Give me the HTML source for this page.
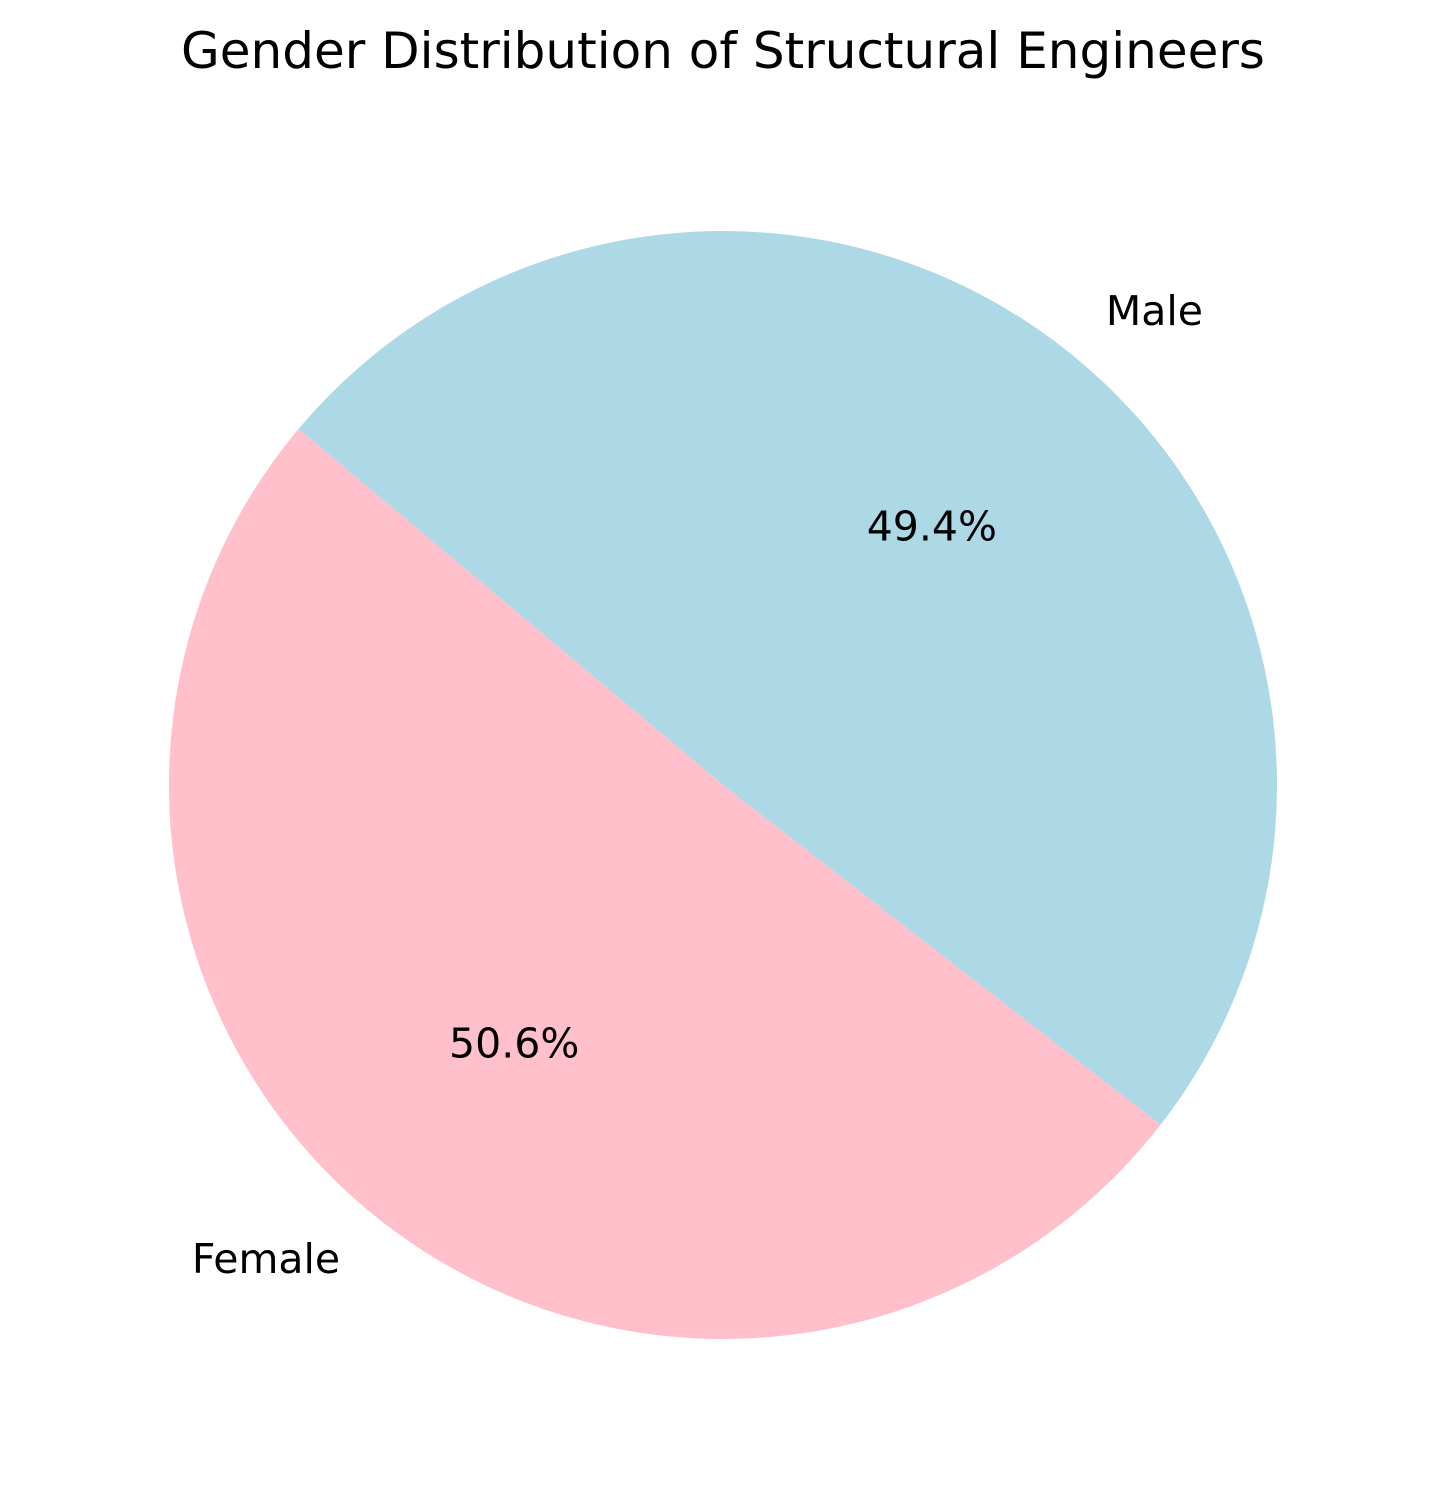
<!DOCTYPE html>
<html><head><meta charset="utf-8"><style>
html,body{margin:0;padding:0;background:#fff;}
svg{display:block;font-family:"DejaVu Sans","Liberation Sans",sans-serif;}
</style></head><body>
<svg id="chart" width="1446" height="1509">
<text x="723" y="68" text-anchor="middle" font-size="50" fill="#000">Gender Distribution of Structural Engineers</text>
<g id="slices"></g>
</svg>
<script>
const categories = ["Female", "Male"];
const values = [50.6, 49.4];
const colors = ["#ffc0cb", "#add8e6"];
const cx = 723, cy = 785, R = 554, startAngle = 140;
const ns = "http://www.w3.org/2000/svg";
const g = document.getElementById("slices");
const total = values.reduce((a, b) => a + b, 0);
function pt(deg, r) { const a = deg * Math.PI / 180; return [cx + r * Math.cos(a), cy - r * Math.sin(a)]; }
let ang = startAngle;
values.forEach((v, i) => {
  const sweep = v / total * 360;
  const a0 = ang, a1 = ang + sweep;
  const p0 = pt(a0, R), p1 = pt(a1, R);
  const large = sweep > 180 ? 1 : 0;
  const path = document.createElementNS(ns, "path");
  path.setAttribute("d", `M${cx},${cy} L${p0[0]},${p0[1]} A${R},${R} 0 ${large} 0 ${p1[0]},${p1[1]} Z`);
  path.setAttribute("fill", colors[i]);
  
  
  g.appendChild(path);
  const mid = (a0 + a1) / 2;
  const lp = pt(mid, R * 1.1);
  const lab = document.createElementNS(ns, "text");
  lab.setAttribute("x", lp[0]); lab.setAttribute("y", lp[1]);
  lab.setAttribute("font-size", "41");
  lab.setAttribute("dominant-baseline", "central");
  lab.setAttribute("text-anchor", Math.cos(mid * Math.PI / 180) >= 0 ? "start" : "end");
  lab.textContent = categories[i];
  
  
  g.appendChild(lab);
  const pp = pt(mid, R * 0.6);
  const pct = document.createElementNS(ns, "text");
  pct.setAttribute("x", pp[0]); pct.setAttribute("y", pp[1]);
  pct.setAttribute("font-size", "41");
  pct.setAttribute("dominant-baseline", "central");
  pct.setAttribute("text-anchor", "middle");
  pct.textContent = (v / total * 100).toFixed(1) + "%";
  
  
  g.appendChild(pct);
  ang = a1;
});
</script>
</body></html>
